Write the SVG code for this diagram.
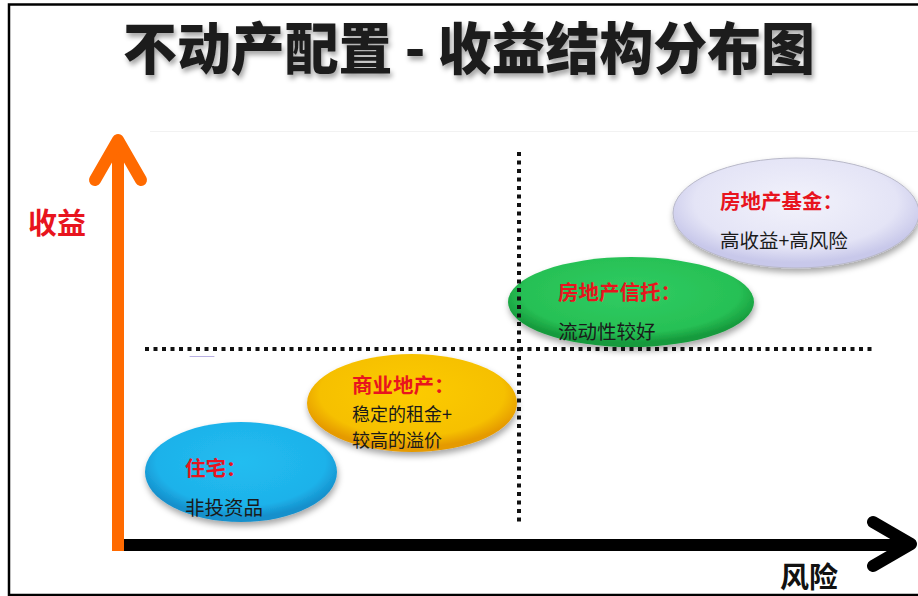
<svg xmlns="http://www.w3.org/2000/svg" width="918" height="596" viewBox="0 0 918 596">
<style>
.title{font-family:"Noto Sans CJK SC","Noto Sans CJK JP",sans-serif;font-weight:900;font-size:56px;fill:#1e1e1e}
.axis-label{font-family:"Noto Sans CJK SC",sans-serif;font-weight:700;font-size:29px}
.head{font-family:"Noto Sans CJK SC",sans-serif;font-weight:700;font-size:20.5px;fill:#e8141e}
.body{font-family:"Noto Sans CJK SC",sans-serif;font-weight:400;font-size:19.5px;fill:#1a1a1a}
.body2{font-family:"Noto Sans CJK SC",sans-serif;font-weight:400;font-size:18px;fill:#1a1a1a}
.dot{fill:none;stroke:#111;stroke-width:4;stroke-dasharray:4 4.5}
</style>
<defs>
<filter id="tshadow" x="-10%" y="-20%" width="120%" height="160%">
<feDropShadow dx="2" dy="4" stdDeviation="2.5" flood-color="#000" flood-opacity="0.35"/>
</filter>
<filter id="eshadow" x="-20%" y="-30%" width="140%" height="170%">
<feDropShadow dx="1" dy="4" stdDeviation="3" flood-color="#000" flood-opacity="0.35"/>
</filter>
<radialGradient id="gBlue" cx="50%" cy="40%" r="55%">
<stop offset="0" stop-color="#22bdf0"/><stop offset="0.8" stop-color="#1eb2ea"/><stop offset="1" stop-color="#1590cc"/>
</radialGradient>
<radialGradient id="gYellow" cx="50%" cy="40%" r="55%">
<stop offset="0" stop-color="#fccb00"/><stop offset="0.8" stop-color="#f6c000"/><stop offset="1" stop-color="#e59a00"/>
</radialGradient>
<radialGradient id="gGreen" cx="50%" cy="40%" r="55%">
<stop offset="0" stop-color="#30cc62"/><stop offset="0.8" stop-color="#27c055"/><stop offset="1" stop-color="#169a3c"/>
</radialGradient>
<radialGradient id="gLav" cx="50%" cy="40%" r="55%">
<stop offset="0" stop-color="#f2f2fb"/><stop offset="0.75" stop-color="#e4e4f6"/><stop offset="1" stop-color="#c8c8ea"/>
</radialGradient>
</defs>
<rect width="918" height="596" fill="#fff"/>
<g id="frame" fill="none" stroke="#000" stroke-width="2.5">
<path d="M920 4.5 H9 V595 H920"/>
</g>
<line x1="150" y1="131.5" x2="918" y2="131.5" stroke="#f2f2f2" stroke-width="1"/>
<g id="title">
<text class="title" x="123" y="69" textLength="692" lengthAdjust="spacingAndGlyphs" filter="url(#tshadow)">不动产配置 - 收益结构分布图</text>
</g>
<g id="node-residential">
<ellipse cx="241" cy="472" rx="96" ry="50" fill="url(#gBlue)" filter="url(#eshadow)"/>
<text class="head" x="185" y="476">住宅：</text>
<text class="body" x="185" y="515">非投资品</text>
</g>
<g id="node-commercial">
<ellipse cx="412" cy="403" rx="105" ry="49" fill="url(#gYellow)" filter="url(#eshadow)"/>
<text class="head" x="352" y="393">商业地产：</text>
<text class="body2" x="352" y="421">稳定的租金+</text>
<text class="body2" x="352" y="447">较高的溢价</text>
</g>
<g id="node-trust">
<ellipse cx="631" cy="302" rx="123" ry="45" fill="url(#gGreen)" filter="url(#eshadow)"/>
<text class="head" x="558" y="300">房地产信托：</text>
<text class="body" x="558" y="339">流动性较好</text>
</g>
<g id="node-fund">
<ellipse cx="796" cy="213" rx="123" ry="55" fill="url(#gLav)" stroke="#b8b8c8" stroke-width="1" filter="url(#eshadow)"/>
<text class="head" x="720" y="209">房地产基金：</text>
<text class="body" x="720" y="248">高收益+高风险</text>
</g>
<g id="connectors" stroke-linecap="round" stroke-linejoin="round">
<line class="dot" x1="145" y1="349" x2="874" y2="349" stroke-linecap="butt"/>
<line class="dot" x1="519" y1="152" x2="519" y2="526" stroke-linecap="butt"/>
<line x1="190" y1="356.5" x2="214" y2="356.5" stroke="#8a7cd0" stroke-width="1" opacity="0.6"/>
<line x1="124" y1="545" x2="908" y2="545" stroke="#000" stroke-width="12" stroke-linecap="butt"/>
<polyline points="873,522 911,544 873,566" fill="none" stroke="#000" stroke-width="12"/>
<line x1="118" y1="551" x2="118" y2="142" stroke="#ff6a00" stroke-width="12" stroke-linecap="butt"/>
<polyline points="95,180 118,140 141,180" fill="none" stroke="#ff6a00" stroke-width="12"/>
</g>
<g id="labels">
<text class="axis-label" x="28" y="234" fill="#e8141e">收益</text>
<text class="axis-label" x="780" y="588" fill="#111">风险</text>
</g>
</svg>
